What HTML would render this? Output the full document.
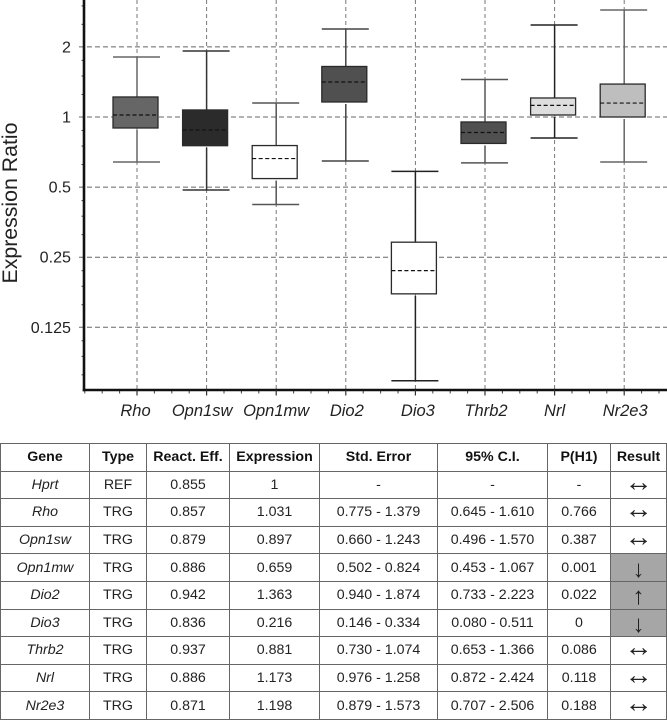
<!DOCTYPE html>
<html lang="en">
<head>
<meta charset="utf-8">
<title>Expression Ratio Chart and Table</title>
<style>
  html, body { margin: 0; padding: 0; background: #fff; }
  body { width: 667px; height: 720px; position: relative; overflow: hidden; font-family: "Liberation Sans", sans-serif; color: #222; }
  #chart { position: absolute; left: 0; top: 0; }
  #results { position: absolute; left: 0; top: 443px; border-collapse: collapse; table-layout: fixed; width: 666px; font-size: 14.2px; }
  #results th, #results td { border: 1.3px solid #666; padding: 0; text-align: center; height: 26.6px; line-height: 20px; white-space: nowrap; overflow: hidden; }
  #results th { font-weight: bold; color: #111; }
  #results td.g { font-style: italic; }
  #results td.a { font-size: 28px; line-height: 18px; color: #222; padding-bottom: 6px; height: 20.6px; }
  #results td.sig { background: #a6a6a6; font-size: 24px; padding-bottom: 0; padding-top: 4px; height: 22.6px; }
</style>
</head>
<body>
<svg id="chart" width="667" height="442" viewBox="0 0 667 442" xmlns="http://www.w3.org/2000/svg"></svg>

<table id="results">
  <colgroup>
    <col style="width:89px"><col style="width:57px"><col style="width:83px"><col style="width:90px"><col style="width:118px"><col style="width:110px"><col style="width:63px"><col style="width:56px">
  </colgroup>
  <tr><th>Gene</th><th>Type</th><th>React. Eff.</th><th>Expression</th><th>Std. Error</th><th>95% C.I.</th><th>P(H1)</th><th>Result</th></tr>
  <tr><td class="g">Hprt</td><td>REF</td><td>0.855</td><td>1</td><td>-</td><td>-</td><td>-</td><td class="a">↔</td></tr>
  <tr><td class="g">Rho</td><td>TRG</td><td>0.857</td><td>1.031</td><td>0.775 - 1.379</td><td>0.645 - 1.610</td><td>0.766</td><td class="a">↔</td></tr>
  <tr><td class="g">Opn1sw</td><td>TRG</td><td>0.879</td><td>0.897</td><td>0.660 - 1.243</td><td>0.496 - 1.570</td><td>0.387</td><td class="a">↔</td></tr>
  <tr><td class="g">Opn1mw</td><td>TRG</td><td>0.886</td><td>0.659</td><td>0.502 - 0.824</td><td>0.453 - 1.067</td><td>0.001</td><td class="a sig">↓</td></tr>
  <tr><td class="g">Dio2</td><td>TRG</td><td>0.942</td><td>1.363</td><td>0.940 - 1.874</td><td>0.733 - 2.223</td><td>0.022</td><td class="a sig">↑</td></tr>
  <tr><td class="g">Dio3</td><td>TRG</td><td>0.836</td><td>0.216</td><td>0.146 - 0.334</td><td>0.080 - 0.511</td><td>0</td><td class="a sig">↓</td></tr>
  <tr><td class="g">Thrb2</td><td>TRG</td><td>0.937</td><td>0.881</td><td>0.730 - 1.074</td><td>0.653 - 1.366</td><td>0.086</td><td class="a">↔</td></tr>
  <tr><td class="g">Nrl</td><td>TRG</td><td>0.886</td><td>1.173</td><td>0.976 - 1.258</td><td>0.872 - 2.424</td><td>0.118</td><td class="a">↔</td></tr>
  <tr><td class="g">Nr2e3</td><td>TRG</td><td>0.871</td><td>1.198</td><td>0.879 - 1.573</td><td>0.707 - 2.506</td><td>0.188</td><td class="a">↔</td></tr>
</table>

<script>
// Chart data (expression ratios)
const genes = ["Rho", "Opn1sw", "Opn1mw", "Dio2", "Dio3", "Thrb2", "Nrl", "Nr2e3"];
const whiskerHigh = [1.81, 1.92, 1.148, 2.387, 0.584, 1.449, 2.483, 2.88];
const boxHigh = [1.219, 1.072, 0.754, 1.648, 0.29, 0.952, 1.207, 1.385];
const medians = [1.02, 0.88, 0.663, 1.414, 0.219, 0.858, 1.122, 1.148];
const boxLow = [0.897, 0.753, 0.544, 1.16, 0.174, 0.77, 1.02, 1.0];
const whiskerLow = [0.641, 0.486, 0.421, 0.647, 0.0737, 0.635, 0.812, 0.641];
const yTickValues = [2, 1, 0.5, 0.25, 0.125];
const yTickLabels = ["2", "1", "0.5", "0.25", "0.125"];
const minorOctaves = [2, 1, 0.5, 0.25, 0.125, 0.0625];
const minorMantissas = [1.25, 1.5, 1.75];

// Styling, kept apart from the data
const boxFills = ["#666666", "#2b2b2b", "#ffffff", "#505050", "#ffffff", "#505050", "#dedede", "#bebebe"];
const whiskerColors = ["#666", "#333", "#555", "#444", "#222", "#555", "#222", "#666"];
const labelNudge = { "Rho": -1.5, "Opn1sw": -4.5, "Dio2": 1, "Dio3": 2.5, "Thrb2": 1, "Nr2e3": 1 };

// Axis functions
const plotLeft = 84, plotBottom = 390, plotRight = 667;
function yScale(v) { return 117 - 70.1 * Math.log2(v); }
function xScale(i) { return 137 + 69.6 * i; }

const svg = document.getElementById('chart');
const NS = 'http://www.w3.org/2000/svg';
function make(tag, attrs) {
  const el = document.createElementNS(NS, tag);
  for (const k in attrs) el.setAttribute(k, attrs[k]);
  svg.appendChild(el);
  return el;
}

// Gridlines
yTickValues.forEach(function (v) {
  const y = yScale(v);
  const el = make('line', { x1: 79, x2: plotRight, y1: y, y2: y, stroke: '#666', 'stroke-width': 1, 'stroke-dasharray': '5 3' });
  
  
});
genes.forEach(function (g, i) {
  const x = xScale(i);
  const el = make('line', { x1: x, x2: x, y1: 0, y2: plotBottom, stroke: '#777', 'stroke-width': 1, 'stroke-dasharray': '4 3' });
  
  
});

// Boxes and whiskers
genes.forEach(function (g, i) {
  const x = xScale(i);
  const top = yScale(boxHigh[i]);
  const bottom = yScale(boxLow[i]);
  const hi = yScale(whiskerHigh[i]);
  const lo = yScale(whiskerLow[i]);
  const med = yScale(medians[i]);
  const wc = whiskerColors[i];

  const upper = make('line', { x1: x, x2: x, y1: hi, y2: top, stroke: wc, 'stroke-width': 1.5 });
  
  

  const lower = make('line', { x1: x, x2: x, y1: bottom + 2, y2: lo, stroke: wc, 'stroke-width': 1.5 });
  
  

  const capHi = make('line', { x1: x - 24, x2: x + 23, y1: hi, y2: hi, stroke: wc, 'stroke-width': 1.5 });
  
  

  const capLo = make('line', { x1: x - 24, x2: x + 23, y1: lo, y2: lo, stroke: wc, 'stroke-width': 1.5 });
  
  

  const box = make('rect', { x: x - 24, y: top, width: 45, height: bottom - top, fill: boxFills[i], stroke: '#2a2a2a', 'stroke-width': 1.3 });
  
  

  const medLine = make('line', { x1: x - 24, x2: x + 21, y1: med, y2: med, stroke: '#111', 'stroke-width': 1.2, 'stroke-dasharray': '4 2.5' });
  
  
});

// Minor y ticks
minorOctaves.forEach(function (o) {
  minorMantissas.forEach(function (m) {
    const y = yScale(o * m);
    if (y < 0 || y > plotBottom) return;
    const el = make('line', { x1: 81.5, x2: plotLeft, y1: y, y2: y, stroke: '#444', 'stroke-width': 1 });
    
    
  });
});

// Minor x ticks
for (let k = -3; k < 32; k++) {
  if (k % 4 === 0) continue;
  const x = xScale(k / 4);
  if (x <= plotLeft || x > plotRight) continue;
  const el = make('line', { x1: x, x2: x, y1: plotBottom, y2: plotBottom + 3.5, stroke: '#444', 'stroke-width': 1 });
  
  
}

// Axes
const yAxis = make('line', { x1: plotLeft, x2: plotLeft, y1: 0, y2: plotBottom + 1.3, stroke: '#111', 'stroke-width': 2.6 });


const xAxis = make('line', { x1: plotLeft - 1.3, x2: plotRight, y1: plotBottom, y2: plotBottom, stroke: '#111', 'stroke-width': 2.6 });



// Y tick labels
yTickValues.forEach(function (v, i) {
  const t = make('text', { x: 71, y: yScale(v) + 5.5, 'text-anchor': 'end', 'font-size': 16.1, fill: '#222', 'font-family': '"Liberation Sans", sans-serif' });
  
  
  t.textContent = yTickLabels[i];
});

// X ticks and labels
genes.forEach(function (g, i) {
  const x = xScale(i);
  const tick = make('line', { x1: x, x2: x, y1: plotBottom, y2: plotBottom + 5.5, stroke: '#333', 'stroke-width': 1.2 });
  
  
  const t = make('text', { x: x + (labelNudge[g] || 0), y: 416, 'text-anchor': 'middle', 'font-size': 16.5, 'font-style': 'italic', fill: '#222', 'font-family': '"Liberation Sans", sans-serif' });
  
  
  t.textContent = g;
});

// Y-axis title
const title = make('text', { x: 0, y: 0, transform: 'translate(17 203) rotate(-90)', 'text-anchor': 'middle', 'font-size': 21.3, fill: '#222', 'font-family': '"Liberation Sans", sans-serif' });


title.textContent = 'Expression Ratio';
</script>
</body>
</html>
